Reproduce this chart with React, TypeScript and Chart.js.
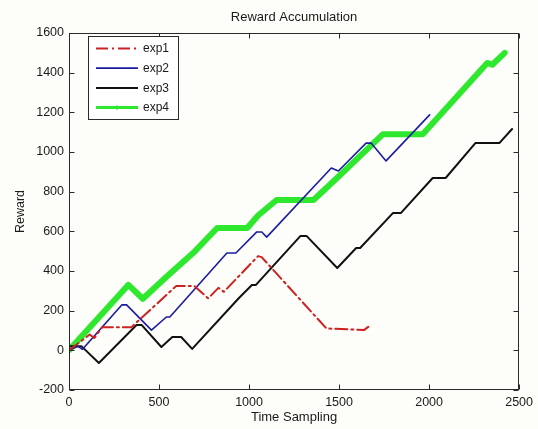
import { useEffect, useRef } from "react";
import { Chart, registerables } from "chart.js";

Chart.register(...registerables);

const chartTitle = "Reward Accumulation";
const xTitle = "Time Sampling";
const yTitle = "Reward";
const seriesNames = ["exp1", "exp2", "exp3", "exp4"];
const xTicks = [0, 500, 1000, 1500, 2000, 2500];
const yTicks = [-200, 0, 200, 400, 600, 800, 1000, 1200, 1400, 1600];

const exp1X = [0, 115, 140, 185, 347, 596, 695, 773, 830, 860, 1050, 1070, 1430, 1640, 1665];
const exp1Y = [0, 80, 62, 117, 117, 325, 325, 262, 315, 295, 475, 470, 110, 103, 120];

const exp2X = [0, 50, 75, 293, 320, 458, 541, 560, 877, 927, 1043, 1071, 1098, 1457, 1496, 1650, 1678, 1761, 2003];
const exp2Y = [0, 20, 5, 229, 229, 102, 168, 168, 491, 491, 597, 597, 571, 919, 904, 1045, 1045, 955, 1187];

const exp3X = [0, 70, 166, 375, 403, 513, 574, 623, 684, 944, 1016, 1037, 1286, 1319, 1490, 1595, 1617, 1799, 1843, 2020, 2092, 2257, 2390, 2461];
const exp3Y = [20, 20, -64, 128, 128, 17, 67, 67, 7, 264, 329, 329, 577, 577, 415, 516, 516, 692, 692, 869, 869, 1045, 1045, 1116];

const exp4X = [0, 280, 330, 410, 540, 700, 823, 990, 1050, 1153, 1358, 1490, 1744, 1965, 2323, 2351, 2420];
const exp4Y = [0, 280, 330, 260, 370, 500, 617, 617, 680, 758, 758, 870, 1090, 1090, 1449, 1440, 1500];

const seriesX = [exp1X, exp2X, exp3X, exp4X];
const seriesY = [exp1Y, exp2Y, exp3Y, exp4Y];
const colors = ["#cc2222", "#1c1ca0", "#111111", "#2ee82e"];
const widths = [2, 1.6, 2, 6];
const legendWidths = [2, 1.8, 2, 3];
const dashes: number[][] = [[12, 4, 2, 4], [], [], []];

const FONT = "'Liberation Sans', Arial, sans-serif";

const matlabFrame = {
  id: "matlabFrame",
  afterDatasetsDraw(chart: any) {
    const { ctx, chartArea: a, scales } = chart;
    const xs = scales.x;
    const ys = scales.y;
    const L = Math.round(a.left) + 0.5;
    const R = Math.round(a.right) - 0.5;
    const T = Math.round(a.top) + 0.5;
    const B = Math.round(a.bottom) - 0.5;
    ctx.save();
    ctx.strokeStyle = "#2a2a2a";
    ctx.lineWidth = 1;
    ctx.setLineDash([]);
    ctx.strokeRect(L, T, R - L, B - T);
    const tl = 5;
    ctx.beginPath();
    xTicks.forEach((v) => {
      const px = Math.round(xs.getPixelForValue(v)) + 0.5;
      ctx.moveTo(px, B);
      ctx.lineTo(px, B - tl);
      ctx.moveTo(px, T);
      ctx.lineTo(px, T + tl);
    });
    yTicks.forEach((v) => {
      const py = Math.round(ys.getPixelForValue(v)) + 0.5;
      ctx.moveTo(L, py);
      ctx.lineTo(L + tl, py);
      ctx.moveTo(R, py);
      ctx.lineTo(R - tl, py);
    });
    ctx.stroke();

    // legend
    const lx = a.left + 19;
    const ly = a.top + 3;
    const lw = 90;
    const lh = 83;
    ctx.fillStyle = "#ffffff";
    ctx.fillRect(lx, ly, lw, lh);
    ctx.strokeStyle = "#2a2a2a";
    ctx.strokeRect(Math.round(lx) + 0.5, Math.round(ly) + 0.5, lw, lh);
    ctx.font = `12px ${FONT}`;
    ctx.textBaseline = "middle";
    ctx.textAlign = "left";
    chart.data.datasets.forEach((ds: any, i: number) => {
      const ry = ly + 12.5 + i * 19.7;
      ctx.beginPath();
      ctx.strokeStyle = colors[i];
      ctx.lineWidth = legendWidths[i];
      ctx.setLineDash(dashes[i]);
      ctx.moveTo(lx + 8, ry);
      ctx.lineTo(lx + 50, ry);
      ctx.stroke();
      ctx.setLineDash([]);
      if (i === 3) {
        ctx.lineWidth = 1;
        ctx.beginPath();
        ctx.moveTo(lx + 29, ry - 2.5);
        ctx.lineTo(lx + 29, ry + 2.5);
        ctx.stroke();
      }
      ctx.fillStyle = "#1a1a1a";
      ctx.fillText(ds.label, lx + 55, ry + 0.5);
    });

    // title
    ctx.font = `13px ${FONT}`;
    ctx.textAlign = "center";
    ctx.fillStyle = "#1a1a1a";
    ctx.fillText(chartTitle, (a.left + a.right) / 2, 17);
    ctx.restore();
  },
};

export default function App() {
  const ref = useRef<HTMLCanvasElement | null>(null);
  useEffect(() => {
    if (!ref.current) return;
    const datasets = seriesNames.map((name, i) => ({
      label: name,
      data: seriesX[i].map((x, k) => ({ x, y: seriesY[i][k] })),
      borderColor: colors[i],
      backgroundColor: colors[i],
      borderWidth: widths[i],
      borderDash: dashes[i],
      pointRadius: 0,
      tension: 0,
      fill: false,
      order: i,
      borderJoinStyle: "round" as const,
      borderCapStyle: "round" as const,
    }));
    const chart = new Chart(ref.current, {
      type: "line",
      data: { datasets },
      plugins: [matlabFrame],
      options: {
        animation: false,
        responsive: false,
        layout: { padding: { top: 33, right: 16, left: 0, bottom: 0 } },
        plugins: {
          legend: { display: false },
          title: { display: false },
          tooltip: { enabled: false },
        },
        scales: {
          x: {
            type: "linear",
            min: 0,
            max: 2500,
            afterFit: (s: any) => {
              s.height = 39;
            },
            afterBuildTicks: (s: any) => {
              s.ticks = xTicks.map((v) => ({ value: v }));
            },
            grid: { display: false, drawTicks: false },
            border: { display: false },
            ticks: {
              color: "#1a1a1a",
              padding: 5,
              maxRotation: 0,
              font: { family: FONT, size: 12.5 },
              callback: (v: any) => String(v),
            },
            title: {
              display: true,
              text: xTitle,
              color: "#1a1a1a",
              font: { family: FONT, size: 13 },
              padding: { top: 0, bottom: 4 },
            },
          },
          y: {
            type: "linear",
            min: -200,
            max: 1600,
            afterFit: (s: any) => {
              s.width = 69;
            },
            afterBuildTicks: (s: any) => {
              s.ticks = yTicks.map((v) => ({ value: v }));
            },
            grid: { display: false, drawTicks: false },
            border: { display: false },
            ticks: {
              color: "#1a1a1a",
              padding: 5,
              font: { family: FONT, size: 12.5 },
              callback: (v: any) => String(v),
            },
            title: {
              display: true,
              text: yTitle,
              color: "#1a1a1a",
              font: { family: FONT, size: 12.5 },
              padding: { top: 13, bottom: 0 },
            },
          },
        },
      },
    });
    return () => chart.destroy();
  }, []);
  return (
    <div style={{ position: "fixed", left: 0, top: 0, width: 538, height: 429, background: "#fdfdf9" }}>
      <canvas ref={ref} width={538} height={429} style={{ display: "block" }} />
    </div>
  );
}
